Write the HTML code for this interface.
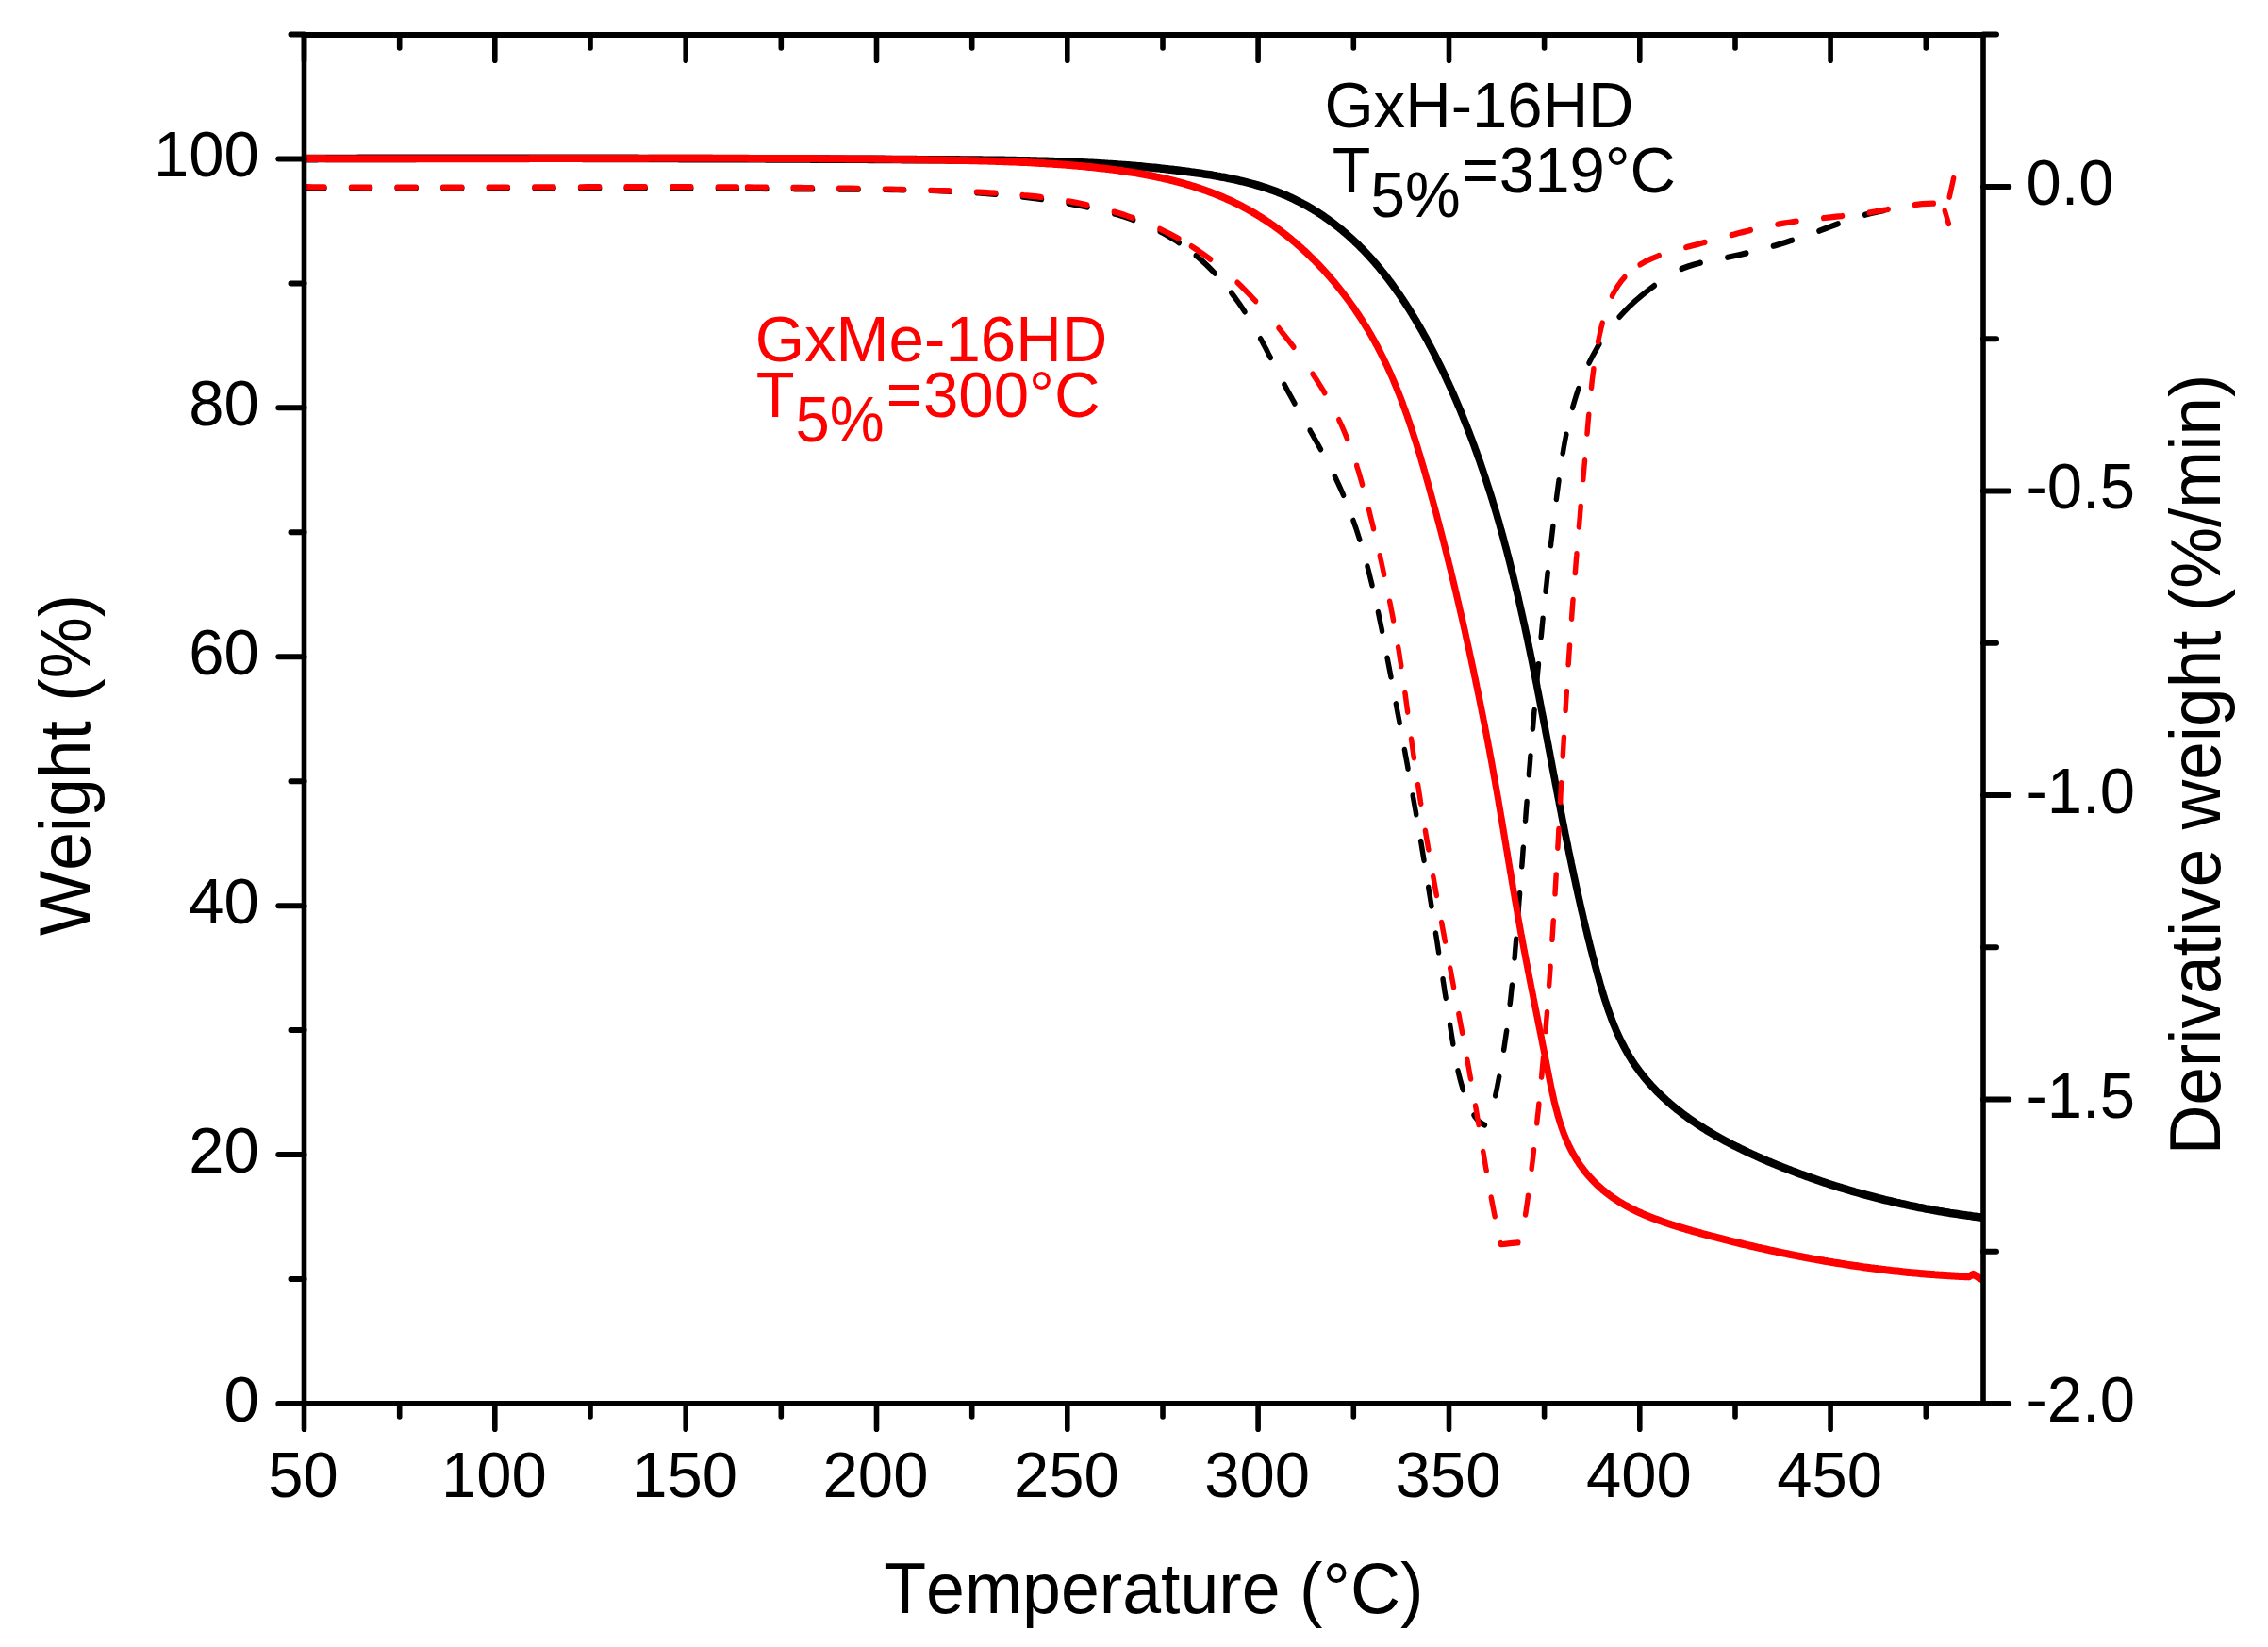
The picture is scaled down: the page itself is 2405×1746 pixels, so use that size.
<!DOCTYPE html>
<html lang="en"><head><meta charset="utf-8"><title>TGA curves</title>
<style>html,body{margin:0;padding:0;background:#fff}body{width:2405px;height:1746px;overflow:hidden}svg{display:block}text{font-family:"Liberation Sans", Arial, Helvetica, sans-serif;font-kerning:none;}</style></head><body>
<svg width="2405" height="1746" viewBox="0 0 2405 1746">
<rect width="2405" height="1746" fill="#fff"/>
<defs><clipPath id="plot"><rect x="322.5" y="37.0" width="1780.5" height="1451.0"/></clipPath></defs>
<g clip-path="url(#plot)"><g fill="none" stroke-linejoin="round" transform="scale(0.88 1)">
<path d="M359.1 168.1L361.4 168.1L363.7 168.1L366.0 168.1L368.2 168.1L370.5 168.1L372.8 168.1L375.0 168.1L377.3 168.1L379.6 168.1L381.9 168.1L384.1 168.0L386.4 168.0L388.7 168.0L391.0 168.0L393.2 168.0L395.5 168.0L397.8 168.0L400.0 168.0L402.3 168.0L404.6 168.0L406.9 168.0L409.1 168.0L411.4 168.0L413.7 168.0L416.0 168.0L418.2 168.0L420.5 168.0L422.8 168.0L425.0 168.0L427.3 168.0L429.6 168.0L431.9 167.9L434.1 167.9L436.4 167.9L438.7 167.9L441.0 167.9L443.2 167.9L445.5 167.9L447.8 167.9L450.1 167.9L452.3 167.9L454.6 167.9L456.9 167.9L459.2 167.9L461.4 167.9L463.7 167.9L466.0 167.9L468.2 167.9L470.5 167.9L472.8 167.9L475.1 167.9L477.3 167.9L479.6 167.9L481.9 167.9L484.2 167.9L486.4 167.9L488.7 167.9L491.0 167.9L493.3 167.9L495.5 167.9L497.8 167.9L500.1 167.9L502.4 167.8L504.6 167.8L506.9 167.8L509.2 167.8L511.5 167.8L513.7 167.8L516.0 167.8L518.3 167.8L520.6 167.8L522.8 167.8L525.1 167.8L527.4 167.8L529.7 167.8L531.9 167.8L534.2 167.8L536.5 167.8L538.8 167.8L541.0 167.8L543.3 167.8L545.6 167.8L547.9 167.8L550.1 167.8L552.4 167.8L554.7 167.8L557.0 167.8L559.3 167.8L561.5 167.8L563.8 167.8L566.1 167.8L568.4 167.8L570.6 167.8L572.9 167.8L575.2 167.8L577.5 167.8L579.7 167.8L582.0 167.8L584.3 167.8L586.6 167.8L588.8 167.8L591.1 167.8L593.4 167.8L595.7 167.8L597.9 167.8L600.2 167.8L602.5 167.8L604.8 167.8L607.0 167.8L609.3 167.8L611.6 167.8L613.9 167.8L616.2 167.8L618.4 167.8L620.7 167.8L623.0 167.8L625.3 167.8L627.5 167.8L629.8 167.8L632.1 167.8L634.4 167.8L636.6 167.8L638.9 167.8L641.2 167.8L643.5 167.8L645.7 167.8L648.0 167.8L650.3 167.8L652.6 167.8L654.9 167.8L657.1 167.8L659.4 167.8L661.7 167.8L664.0 167.8L666.2 167.8L668.5 167.8L670.8 167.8L673.1 167.8L675.3 167.8L677.6 167.8L679.9 167.8L682.2 167.8L684.5 167.8L686.7 167.8L689.0 167.8L691.3 167.8L693.6 167.8L695.8 167.8L698.1 167.8L700.4 167.8L702.7 167.9L704.9 167.9L707.2 167.9L709.5 167.9L711.8 167.9L714.1 167.9L716.3 167.9L718.6 167.9L720.9 167.9L723.2 167.9L725.4 167.9L727.7 167.9L730.0 167.9L732.3 167.9L734.6 167.9L736.8 167.9L739.1 167.9L741.4 167.9L743.7 167.9L745.9 167.9L748.2 167.9L750.5 167.9L752.8 167.9L755.0 167.9L757.3 167.9L759.6 167.9L761.9 167.9L764.2 167.9L766.4 167.9L768.7 167.9L771.0 168.0L773.3 168.0L775.5 168.0L777.8 168.0L780.1 168.0L782.4 168.0L784.6 168.0L786.9 168.0L789.2 168.0L791.5 168.0L793.8 168.0L796.0 168.0L798.3 168.0L800.6 168.0L802.9 168.0L805.1 168.0L807.4 168.0L809.7 168.0L812.0 168.0L814.2 168.0L816.5 168.0L818.8 168.1L821.1 168.1L823.4 168.1L825.6 168.1L827.9 168.1L830.2 168.1L832.5 168.1L834.7 168.1L837.0 168.1L839.3 168.1L841.6 168.1L843.8 168.1L846.1 168.1L848.4 168.1L850.7 168.1L853.0 168.1L855.2 168.1L857.5 168.1L859.8 168.2L862.1 168.2L864.3 168.2L866.6 168.2L868.9 168.2L871.2 168.2L873.4 168.2L875.7 168.2L878.0 168.2L880.3 168.2L882.6 168.2L884.8 168.2L887.1 168.2L889.4 168.2L891.7 168.2L893.9 168.3L896.2 168.3L898.5 168.3L900.8 168.3L903.0 168.3L905.3 168.3L907.6 168.3L909.9 168.3L912.1 168.3L914.4 168.3L916.7 168.3L919.0 168.3L921.3 168.3L923.5 168.4L925.8 168.4L928.1 168.4L930.4 168.4L932.6 168.4L934.9 168.4L937.2 168.4L939.5 168.4L941.7 168.4L944.0 168.4L946.3 168.4L948.6 168.4L950.8 168.5L953.1 168.5L955.4 168.5L957.7 168.5L959.9 168.5L962.2 168.5L964.5 168.5L966.8 168.5L969.0 168.5L971.3 168.5L973.6 168.5L975.9 168.5L978.2 168.6L980.4 168.6L982.7 168.6L985.0 168.6L987.3 168.6L989.5 168.6L991.8 168.6L994.1 168.6L996.4 168.6L998.6 168.6L1000.9 168.7L1003.2 168.7L1005.5 168.7L1007.7 168.7L1010.0 168.7L1012.3 168.7L1014.6 168.7L1016.8 168.7L1019.1 168.7L1021.4 168.7L1023.7 168.8L1025.9 168.8L1028.2 168.8L1030.5 168.8L1032.8 168.8L1035.0 168.8L1037.3 168.8L1039.6 168.8L1041.9 168.8L1044.1 168.8L1046.4 168.9L1048.7 168.9L1051.0 168.9L1053.2 168.9L1055.5 168.9L1057.8 168.9L1060.0 168.9L1062.3 168.9L1064.6 168.9L1066.9 169.0L1069.1 169.0L1071.4 169.0L1073.7 169.0L1076.0 169.0L1078.2 169.0L1080.5 169.0L1082.8 169.0L1085.1 169.0L1087.3 169.1L1089.6 169.1L1091.9 169.1L1094.2 169.1L1096.4 169.1L1098.7 169.1L1101.0 169.1L1103.2 169.1L1105.5 169.2L1107.8 169.2L1110.1 169.2L1112.3 169.2L1114.6 169.2L1116.9 169.2L1119.2 169.2L1121.4 169.2L1123.7 169.3L1126.0 169.3L1128.2 169.3L1130.5 169.3L1132.8 169.3L1135.1 169.3L1137.3 169.3L1139.6 169.3L1141.9 169.4L1144.2 169.4L1146.4 169.4L1148.7 169.4L1151.0 169.4L1153.2 169.4L1155.5 169.4L1157.8 169.5L1160.1 169.5L1162.3 169.5L1164.6 169.5L1166.9 169.5L1169.1 169.5L1171.4 169.6L1173.7 169.6L1176.0 169.6L1178.2 169.6L1180.5 169.6L1182.8 169.6L1185.0 169.7L1187.3 169.7L1189.6 169.7L1191.9 169.7L1194.1 169.8L1196.4 169.8L1198.7 169.8L1200.9 169.8L1203.2 169.9L1205.5 169.9L1207.8 169.9L1210.0 169.9L1212.3 170.0L1214.6 170.0L1216.8 170.0L1219.1 170.1L1221.4 170.1L1223.7 170.1L1225.9 170.2L1228.2 170.2L1230.5 170.3L1232.7 170.3L1235.0 170.3L1237.3 170.4L1239.6 170.4L1241.8 170.5L1244.1 170.5L1246.4 170.6L1248.6 170.6L1250.9 170.7L1253.2 170.7L1255.5 170.8L1257.7 170.8L1260.0 170.9L1262.3 170.9L1264.5 171.0L1266.8 171.1L1269.1 171.1L1271.4 171.2L1273.6 171.3L1275.9 171.3L1278.2 171.4L1280.4 171.5L1282.7 171.6L1285.0 171.6L1287.2 171.7L1289.5 171.8L1291.8 171.9L1294.1 172.0L1296.3 172.0L1298.6 172.1L1300.9 172.2L1303.1 172.3L1305.4 172.4L1307.7 172.5L1310.0 172.6L1312.2 172.7L1314.5 172.8L1316.8 172.9L1319.0 173.0L1321.3 173.1L1323.6 173.3L1325.9 173.4L1328.1 173.5L1330.4 173.6L1332.7 173.7L1335.0 173.9L1337.2 174.0L1339.5 174.1L1341.8 174.3L1344.0 174.4L1346.3 174.5L1348.6 174.7L1350.9 174.8L1353.1 175.0L1355.4 175.1L1357.7 175.3L1359.9 175.4L1362.2 175.6L1364.5 175.8L1366.8 175.9L1369.0 176.1L1371.3 176.3L1373.6 176.4L1375.9 176.6L1378.1 176.8L1380.4 177.0L1382.7 177.2L1384.9 177.4L1387.2 177.5L1389.5 177.7L1391.8 177.9L1394.0 178.1L1396.3 178.3L1398.6 178.6L1400.9 178.8L1403.1 179.0L1405.4 179.2L1407.7 179.4L1410.0 179.7L1412.2 179.9L1414.5 180.1L1416.8 180.4L1419.1 180.6L1421.3 180.8L1423.6 181.1L1425.9 181.3L1428.2 181.6L1430.4 181.9L1432.7 182.1L1435.0 182.4L1437.3 182.7L1439.5 182.9L1441.8 183.2L1444.1 183.5L1446.4 183.8L1448.6 184.1L1450.9 184.4L1453.2 184.7L1455.4 185.0L1457.7 185.3L1460.0 185.6L1462.2 186.0L1464.5 186.3L1466.8 186.7L1469.0 187.0L1471.3 187.4L1473.5 187.7L1475.8 188.1L1478.0 188.5L1480.3 188.9L1482.5 189.3L1484.7 189.7L1487.0 190.1L1489.2 190.6L1491.4 191.0L1493.7 191.5L1495.9 191.9L1498.1 192.4L1500.3 192.9L1502.5 193.4L1504.7 193.9L1506.9 194.4L1509.1 194.9L1511.3 195.4L1513.5 196.0L1515.7 196.5L1517.9 197.1L1520.0 197.7L1522.2 198.3L1524.4 198.9L1526.5 199.5L1528.7 200.2L1530.8 200.8L1532.9 201.5L1535.1 202.2L1537.2 202.8L1539.3 203.6L1541.4 204.3L1543.5 205.0L1545.6 205.8L1547.7 206.5L1549.8 207.3L1551.8 208.1L1553.9 208.9L1556.0 209.8L1558.0 210.6L1560.1 211.5L1562.1 212.4L1564.1 213.2L1566.1 214.2L1568.1 215.1L1570.1 216.0L1572.1 217.0L1574.1 217.9L1576.1 218.9L1578.0 219.9L1580.0 220.9L1581.9 221.9L1583.8 223.0L1585.8 224.0L1587.7 225.1L1589.6 226.1L1591.5 227.2L1593.3 228.3L1595.2 229.4L1597.0 230.6L1598.9 231.7L1600.7 232.8L1602.5 234.0L1604.3 235.2L1606.1 236.4L1607.9 237.6L1609.7 238.8L1611.4 240.0L1613.2 241.2L1614.9 242.5L1616.7 243.7L1618.4 245.0L1620.1 246.3L1621.8 247.5L1623.5 248.8L1625.2 250.2L1626.8 251.5L1628.5 252.8L1630.1 254.1L1631.8 255.5L1633.4 256.9L1635.0 258.2L1636.6 259.6L1638.2 261.0L1639.8 262.4L1641.4 263.8L1643.0 265.2L1644.5 266.6L1646.1 268.1L1647.6 269.5L1649.1 271.0L1650.7 272.5L1652.2 273.9L1653.7 275.4L1655.2 276.9L1656.6 278.4L1658.1 279.9L1659.6 281.4L1661.0 282.9L1662.5 284.5L1663.9 286.0L1665.4 287.6L1666.8 289.1L1668.2 290.7L1669.6 292.3L1671.0 293.8L1672.4 295.4L1673.7 297.0L1675.1 298.6L1676.5 300.2L1677.8 301.8L1679.2 303.5L1680.5 305.1L1681.8 306.7L1683.2 308.4L1684.5 310.0L1685.8 311.7L1687.1 313.3L1688.4 315.0L1689.6 316.7L1690.9 318.3L1692.2 320.0L1693.4 321.7L1694.7 323.4L1695.9 325.1L1697.2 326.8L1698.4 328.5L1699.6 330.2L1700.8 331.9L1702.0 333.7L1703.2 335.4L1704.4 337.1L1705.6 338.9L1706.8 340.6L1707.9 342.4L1709.1 344.1L1710.2 345.9L1711.4 347.6L1712.5 349.4L1713.7 351.1L1714.8 352.9L1715.9 354.7L1717.0 356.5L1718.2 358.2L1719.3 360.0L1720.4 361.8L1721.4 363.6L1722.5 365.4L1723.6 367.2L1724.7 369.0L1725.7 370.8L1726.8 372.6L1727.9 374.4L1728.9 376.2L1729.9 378.0L1731.0 379.8L1732.0 381.6L1733.0 383.4L1734.1 385.3L1735.1 387.1L1736.1 388.9L1737.1 390.7L1738.1 392.5L1739.1 394.4L1740.1 396.2L1741.0 398.0L1742.0 399.8L1743.0 401.7L1743.9 403.5L1744.9 405.3L1745.9 407.2L1746.8 409.0L1747.8 410.8L1748.7 412.7L1749.6 414.5L1750.6 416.4L1751.5 418.2L1752.4 420.0L1753.3 421.9L1754.2 423.7L1755.1 425.6L1756.0 427.4L1756.9 429.3L1757.8 431.1L1758.7 433.0L1759.6 434.8L1760.4 436.7L1761.3 438.6L1762.2 440.4L1763.0 442.3L1763.9 444.1L1764.7 446.0L1765.6 447.9L1766.4 449.7L1767.3 451.6L1768.1 453.4L1768.9 455.3L1769.7 457.2L1770.6 459.1L1771.4 460.9L1772.2 462.8L1773.0 464.7L1773.8 466.5L1774.6 468.4L1775.4 470.3L1776.2 472.2L1777.0 474.1L1777.7 475.9L1778.5 477.8L1779.3 479.7L1780.0 481.6L1780.8 483.5L1781.6 485.4L1782.3 487.2L1783.1 489.1L1783.8 491.0L1784.6 492.9L1785.3 494.8L1786.0 496.7L1786.8 498.6L1787.5 500.5L1788.2 502.4L1788.9 504.3L1789.6 506.2L1790.3 508.1L1791.0 510.0L1791.7 511.9L1792.4 513.8L1793.1 515.7L1793.8 517.6L1794.5 519.5L1795.2 521.4L1795.9 523.3L1796.6 525.2L1797.2 527.1L1797.9 529.0L1798.6 530.9L1799.2 532.8L1799.9 534.8L1800.5 536.7L1801.2 538.6L1801.8 540.5L1802.5 542.4L1803.1 544.3L1803.8 546.2L1804.4 548.2L1805.0 550.1L1805.7 552.0L1806.3 553.9L1806.9 555.8L1807.5 557.8L1808.1 559.7L1808.7 561.6L1809.4 563.5L1810.0 565.5L1810.6 567.4L1811.2 569.3L1811.8 571.2L1812.4 573.2L1812.9 575.1L1813.5 577.0L1814.1 579.0L1814.7 580.9L1815.3 582.8L1815.9 584.8L1816.4 586.7L1817.0 588.6L1817.6 590.6L1818.1 592.5L1818.7 594.4L1819.3 596.4L1819.8 598.3L1820.4 600.2L1820.9 602.2L1821.5 604.1L1822.0 606.1L1822.6 608.0L1823.1 609.9L1823.6 611.9L1824.2 613.8L1824.7 615.8L1825.2 617.7L1825.8 619.7L1826.3 621.6L1826.8 623.6L1827.3 625.5L1827.9 627.4L1828.4 629.4L1828.9 631.3L1829.4 633.3L1829.9 635.2L1830.4 637.2L1830.9 639.1L1831.4 641.1L1831.9 643.0L1832.4 645.0L1832.9 646.9L1833.4 648.9L1833.9 650.8L1834.4 652.8L1834.9 654.7L1835.4 656.7L1835.9 658.7L1836.4 660.6L1836.9 662.6L1837.4 664.5L1837.8 666.5L1838.3 668.4L1838.8 670.4L1839.3 672.3L1839.7 674.3L1840.2 676.3L1840.7 678.2L1841.1 680.2L1841.6 682.1L1842.1 684.1L1842.5 686.0L1843.0 688.0L1843.5 690.0L1843.9 691.9L1844.4 693.9L1844.8 695.8L1845.3 697.8L1845.8 699.8L1846.2 701.7L1846.7 703.7L1847.1 705.6L1847.6 707.6L1848.0 709.6L1848.5 711.5L1848.9 713.5L1849.3 715.5L1849.8 717.4L1850.2 719.4L1850.7 721.3L1851.1 723.3L1851.6 725.3L1852.0 727.2L1852.4 729.2L1852.9 731.2L1853.3 733.1L1853.7 735.1L1854.2 737.0L1854.6 739.0L1855.0 741.0L1855.5 742.9L1855.9 744.9L1856.3 746.9L1856.8 748.8L1857.2 750.8L1857.6 752.8L1858.0 754.7L1858.5 756.7L1858.9 758.7L1859.3 760.6L1859.8 762.6L1860.2 764.6L1860.6 766.5L1861.0 768.5L1861.5 770.4L1861.9 772.4L1862.3 774.4L1862.7 776.3L1863.1 778.3L1863.6 780.3L1864.0 782.2L1864.4 784.2L1864.8 786.2L1865.3 788.1L1865.7 790.1L1866.1 792.0L1866.5 794.0L1866.9 796.0L1867.4 797.9L1867.8 799.9L1868.2 801.9L1868.6 803.8L1869.0 805.8L1869.5 807.8L1869.9 809.7L1870.3 811.7L1870.7 813.6L1871.1 815.6L1871.6 817.6L1872.0 819.5L1872.4 821.5L1872.8 823.4L1873.3 825.4L1873.7 827.4L1874.1 829.3L1874.5 831.3L1875.0 833.3L1875.4 835.2L1875.8 837.2L1876.2 839.1L1876.7 841.1L1877.1 843.1L1877.5 845.0L1877.9 847.0L1878.4 848.9L1878.8 850.9L1879.2 852.8L1879.7 854.8L1880.1 856.8L1880.5 858.7L1881.0 860.7L1881.4 862.6L1881.8 864.6L1882.3 866.6L1882.7 868.5L1883.1 870.5L1883.6 872.4L1884.0 874.4L1884.5 876.4L1884.9 878.3L1885.3 880.3L1885.8 882.2L1886.2 884.2L1886.7 886.1L1887.1 888.1L1887.6 890.1L1888.0 892.0L1888.5 894.0L1888.9 895.9L1889.4 897.9L1889.8 899.9L1890.3 901.8L1890.7 903.8L1891.2 905.7L1891.7 907.7L1892.1 909.7L1892.6 911.6L1893.1 913.6L1893.5 915.5L1894.0 917.5L1894.5 919.5L1894.9 921.4L1895.4 923.4L1895.9 925.3L1896.3 927.3L1896.8 929.3L1897.3 931.2L1897.8 933.2L1898.3 935.1L1898.8 937.1L1899.2 939.1L1899.7 941.0L1900.2 943.0L1900.7 944.9L1901.2 946.9L1901.7 948.9L1902.2 950.8L1902.7 952.8L1903.2 954.8L1903.7 956.7L1904.2 958.7L1904.7 960.6L1905.2 962.6L1905.7 964.6L1906.2 966.5L1906.8 968.5L1907.3 970.5L1907.8 972.4L1908.3 974.4L1908.9 976.4L1909.4 978.3L1909.9 980.3L1910.4 982.2L1911.0 984.2L1911.5 986.2L1912.1 988.1L1912.6 990.1L1913.1 992.1L1913.7 994.1L1914.2 996.0L1914.8 998.0L1915.4 1000.0L1915.9 1001.9L1916.5 1003.9L1917.0 1005.9L1917.6 1007.8L1918.2 1009.8L1918.7 1011.8L1919.3 1013.7L1919.9 1015.7L1920.5 1017.7L1921.1 1019.7L1921.6 1021.6L1922.2 1023.6L1922.8 1025.6L1923.4 1027.6L1924.0 1029.5L1924.6 1031.5L1925.2 1033.5L1925.8 1035.4L1926.5 1037.4L1927.1 1039.4L1927.7 1041.4L1928.3 1043.3L1929.0 1045.3L1929.6 1047.2L1930.3 1049.2L1930.9 1051.2L1931.6 1053.1L1932.3 1055.1L1933.0 1057.0L1933.6 1058.9L1934.3 1060.9L1935.1 1062.8L1935.8 1064.7L1936.5 1066.7L1937.2 1068.6L1938.0 1070.5L1938.7 1072.4L1939.5 1074.3L1940.3 1076.2L1941.1 1078.1L1941.9 1080.0L1942.7 1081.9L1943.5 1083.7L1944.3 1085.6L1945.2 1087.5L1946.1 1089.3L1946.9 1091.1L1947.8 1093.0L1948.7 1094.8L1949.7 1096.6L1950.6 1098.4L1951.5 1100.2L1952.5 1102.0L1953.5 1103.8L1954.5 1105.5L1955.5 1107.3L1956.5 1109.0L1957.6 1110.8L1958.6 1112.5L1959.7 1114.2L1960.8 1115.9L1961.9 1117.6L1963.0 1119.3L1964.2 1121.0L1965.4 1122.6L1966.5 1124.3L1967.8 1125.9L1969.0 1127.5L1970.2 1129.1L1971.5 1130.7L1972.8 1132.3L1974.1 1133.9L1975.4 1135.4L1976.7 1137.0L1978.1 1138.5L1979.4 1140.0L1980.8 1141.5L1982.2 1143.0L1983.6 1144.5L1985.1 1146.0L1986.5 1147.5L1988.0 1148.9L1989.5 1150.4L1991.0 1151.8L1992.5 1153.2L1994.0 1154.6L1995.5 1156.0L1997.1 1157.4L1998.7 1158.8L2000.3 1160.2L2001.9 1161.5L2003.5 1162.9L2005.1 1164.2L2006.7 1165.5L2008.4 1166.8L2010.1 1168.1L2011.7 1169.4L2013.4 1170.7L2015.2 1172.0L2016.9 1173.3L2018.6 1174.5L2020.3 1175.8L2022.1 1177.0L2023.9 1178.2L2025.7 1179.4L2027.4 1180.6L2029.3 1181.8L2031.1 1183.0L2032.9 1184.2L2034.7 1185.4L2036.6 1186.5L2038.4 1187.7L2040.3 1188.8L2042.2 1189.9L2044.1 1191.1L2046.0 1192.2L2047.9 1193.3L2049.8 1194.4L2051.7 1195.4L2053.7 1196.5L2055.6 1197.6L2057.5 1198.6L2059.5 1199.7L2061.5 1200.7L2063.5 1201.8L2065.4 1202.8L2067.4 1203.8L2069.4 1204.8L2071.4 1205.8L2073.5 1206.8L2075.5 1207.8L2077.5 1208.8L2079.5 1209.8L2081.6 1210.7L2083.6 1211.7L2085.7 1212.6L2087.7 1213.6L2089.8 1214.5L2091.9 1215.4L2094.0 1216.3L2096.0 1217.2L2098.1 1218.1L2100.2 1219.0L2102.3 1219.9L2104.4 1220.8L2106.5 1221.7L2108.6 1222.5L2110.7 1223.4L2112.9 1224.3L2115.0 1225.1L2117.1 1225.9L2119.2 1226.8L2121.4 1227.6L2123.5 1228.4L2125.6 1229.2L2127.8 1230.1L2129.9 1230.9L2132.1 1231.7L2134.2 1232.4L2136.3 1233.2L2138.5 1234.0L2140.6 1234.8L2142.8 1235.5L2144.9 1236.3L2147.1 1237.1L2149.2 1237.8L2151.4 1238.5L2153.6 1239.3L2155.7 1240.0L2157.9 1240.7L2160.0 1241.5L2162.2 1242.2L2164.3 1242.9L2166.5 1243.6L2168.6 1244.3L2170.8 1245.0L2172.9 1245.7L2175.1 1246.4L2177.2 1247.1L2179.4 1247.7L2181.5 1248.4L2183.7 1249.1L2185.8 1249.7L2188.0 1250.4L2190.1 1251.0L2192.3 1251.7L2194.4 1252.3L2196.6 1253.0L2198.7 1253.6L2200.9 1254.2L2203.0 1254.8L2205.2 1255.5L2207.3 1256.1L2209.5 1256.7L2211.7 1257.3L2213.8 1257.9L2216.0 1258.5L2218.1 1259.0L2220.3 1259.6L2222.4 1260.2L2224.6 1260.8L2226.7 1261.3L2228.9 1261.9L2231.1 1262.5L2233.2 1263.0L2235.4 1263.6L2237.5 1264.1L2239.7 1264.6L2241.9 1265.2L2244.0 1265.7L2246.2 1266.2L2248.4 1266.7L2250.5 1267.3L2252.7 1267.8L2254.9 1268.3L2257.1 1268.8L2259.2 1269.3L2261.4 1269.8L2263.6 1270.3L2265.8 1270.7L2267.9 1271.2L2270.1 1271.7L2272.3 1272.2L2274.5 1272.6L2276.7 1273.1L2278.9 1273.5L2281.0 1274.0L2283.2 1274.4L2285.4 1274.9L2287.6 1275.3L2289.8 1275.8L2292.0 1276.2L2294.2 1276.6L2296.4 1277.0L2298.6 1277.4L2300.8 1277.9L2303.0 1278.3L2305.2 1278.7L2307.4 1279.1L2309.7 1279.5L2311.9 1279.9L2314.1 1280.2L2316.3 1280.6L2318.5 1281.0L2320.8 1281.4L2323.0 1281.7L2325.2 1282.1L2327.4 1282.5L2329.7 1282.8L2331.9 1283.2L2334.2 1283.5L2336.4 1283.9L2338.6 1284.2L2340.9 1284.5L2343.1 1284.9L2345.4 1285.2L2347.6 1285.5L2349.9 1285.9L2352.2 1286.2L2354.4 1286.5L2356.7 1286.8L2359.0 1287.1L2361.2 1287.4L2363.5 1287.7L2365.8 1288.0L2368.1 1288.3L2370.4 1288.6L2372.6 1288.8L2374.9 1289.1L2377.2 1289.4L2379.5 1289.7L2381.8 1289.9L2384.1 1290.2L2386.4 1290.4L2388.8 1290.7L2391.1 1290.9" stroke="#000" stroke-width="8.6"/>
<path d="M368.2 199.3L370.5 199.3L377.3 199.3L384.1 199.3L390.9 199.3M423.4 199.3L425.1 199.3L432.0 199.3L438.8 199.2L445.6 199.2L446.1 199.2M478.6 199.2L479.8 199.2L486.6 199.2L493.4 199.2L500.3 199.2L501.4 199.2M533.9 199.2L534.4 199.2L541.3 199.2L548.1 199.2L554.9 199.2L556.6 199.2M589.1 199.2L591.4 199.2L598.2 199.2L605.0 199.2L611.8 199.2M644.3 199.3L646.0 199.3L652.8 199.3L659.7 199.3L666.5 199.3L667.1 199.3M699.6 199.4L700.6 199.4L707.5 199.4L714.3 199.4L721.1 199.4L722.3 199.4M754.8 199.5L755.3 199.5L762.1 199.5L768.9 199.5L775.8 199.5L777.5 199.5M810.0 199.6L812.2 199.6L819.0 199.7L825.9 199.7L832.7 199.7L832.7 199.7M865.2 199.8L866.9 199.8L873.7 199.9L880.5 199.9L887.4 199.9L888.0 199.9M901.0 200.0L903.3 200.0L910.1 200.0L917.0 200.0L923.7 200.1M956.2 200.2L958.0 200.3L964.8 200.3L971.6 200.3L978.5 200.4L979.0 200.4M1011.5 200.6L1012.6 200.6L1019.5 200.6L1026.3 200.7L1033.1 200.7L1034.2 200.7M1066.7 201.0L1067.3 201.0L1074.1 201.1L1081.0 201.2L1087.8 201.3L1089.4 201.3M1121.9 202.0L1121.9 202.0L1128.8 202.2L1135.6 202.4L1142.4 202.7L1144.7 202.8M1177.2 204.3L1178.7 204.4L1185.5 204.8L1192.3 205.3L1199.1 205.8L1199.9 205.8M1232.4 208.6L1233.1 208.7L1239.9 209.4L1246.6 210.2L1253.4 211.0L1255.1 211.2M1287.6 215.7L1289.5 216.0L1296.2 217.1L1302.9 218.3L1309.7 219.5L1310.3 219.6M1342.8 226.6L1343.0 226.6L1349.6 228.3L1356.1 230.1L1362.6 232.1L1365.6 233.0M1398.0 245.4L1400.0 246.3L1405.9 249.2L1411.8 252.2L1417.5 255.4L1420.7 257.3M1441.3 271.0L1443.0 272.3L1448.2 276.3L1453.3 280.4L1458.2 284.7L1463.0 289.0L1463.9 289.8M1483.9 310.5L1485.3 312.1L1489.4 317.0L1493.4 321.9L1497.2 326.8L1499.9 330.5M1519.0 359.1L1519.2 359.4L1522.4 364.7L1525.6 369.9L1528.7 375.3L1531.0 379.1M1547.7 407.7L1548.5 409.0L1551.7 414.3L1555.0 419.6L1558.3 424.9L1560.1 427.7M1578.6 456.3L1578.6 456.4L1582.0 461.6L1585.4 466.9L1588.8 472.1L1591.4 476.3M1608.4 504.9L1608.9 505.8L1611.8 511.2L1614.7 516.7L1617.4 522.1L1618.8 524.9M1630.7 551.8L1631.4 553.6L1633.7 559.3L1635.8 565.0L1637.9 570.7L1638.3 571.8M1647.7 600.4L1648.0 601.4L1649.7 607.2L1651.3 613.0L1653.0 618.8L1653.4 620.4M1660.7 649.0L1661.0 650.2L1662.4 656.1L1663.8 662.0L1665.2 667.9L1665.4 669.0M1671.7 697.6L1671.7 697.6L1673.0 703.5L1674.3 709.4L1675.6 715.4L1676.1 717.6M1682.2 746.2L1682.4 747.0L1683.6 752.9L1684.9 758.8L1686.2 764.7L1686.5 766.2M1692.5 794.8L1692.8 796.2L1694.0 802.2L1695.3 808.1L1696.5 814.0L1696.6 814.8M1702.5 843.4L1702.5 843.5L1703.7 849.4L1704.9 855.3L1706.1 861.2L1706.5 863.4M1712.1 892.0L1712.3 892.7L1713.4 898.6L1714.5 904.5L1715.6 910.4L1715.9 912.0M1721.3 940.6L1721.5 942.0L1722.6 947.9L1723.7 953.8L1724.8 959.7L1724.9 960.6M1730.1 989.4L1730.4 991.3L1731.5 997.3L1732.5 1003.2L1733.6 1009.2L1733.6 1009.4M1738.7 1038.0L1738.8 1039.0L1739.9 1044.9L1740.9 1050.9L1742.0 1056.9L1742.2 1058.0M1747.3 1086.6L1747.3 1086.9L1748.4 1092.9L1749.5 1098.9L1750.6 1104.9L1750.9 1106.6M1756.9 1135.2L1757.3 1136.7L1758.9 1142.5L1760.7 1148.2L1762.6 1153.9L1763.0 1155.2M1776.2 1182.2L1777.3 1183.8L1781.3 1188.3L1786.8 1191.7L1789.1 1192.6M1801.9 1161.5L1802.4 1159.5L1803.8 1153.7L1805.1 1147.8L1806.4 1141.9L1806.5 1141.5M1812.1 1112.9L1812.2 1112.4L1813.2 1106.4L1814.2 1100.5L1815.2 1094.5L1815.5 1092.9M1819.5 1064.3L1819.7 1062.8L1820.5 1056.8L1821.2 1050.8L1821.9 1044.8L1822.0 1044.3M1825.1 1015.7L1825.2 1014.9L1825.7 1008.9L1826.3 1002.9L1826.9 996.9L1827.0 995.7M1829.6 967.1L1829.6 966.9L1830.1 960.9L1830.6 954.9L1831.2 948.9L1831.3 947.1M1833.8 918.5L1834.0 916.9L1834.5 910.9L1835.0 905.0L1835.5 899.0L1835.6 898.5M1838.1 869.9L1838.2 869.0L1838.7 863.0L1839.2 857.0L1839.8 851.0L1839.9 849.9M1842.5 821.3L1842.5 821.1L1843.0 815.1L1843.6 809.1L1844.1 803.1L1844.3 801.3M1847.0 772.7L1847.2 771.2L1847.7 765.2L1848.3 759.2L1848.9 753.3L1849.0 752.7M1851.8 724.1L1851.9 723.3L1852.5 717.4L1853.1 711.4L1853.8 705.4L1853.9 704.1M1857.0 675.5L1857.0 675.5L1857.7 669.5L1858.3 663.5L1859.0 657.5L1859.2 655.5M1862.6 626.9L1862.7 625.6L1863.5 619.7L1864.2 613.7L1864.9 607.7L1865.0 606.9M1868.7 578.3L1868.8 577.8M1868.8 577.8L1869.0 575.8L1869.8 569.8L1870.6 563.8L1871.4 557.8L1871.4 557.8M1875.4 529.2L1875.6 527.9L1876.5 521.9L1877.4 515.9L1878.3 510.0L1878.4 509.2M1883.2 480.6L1883.3 480.2L1884.4 474.2L1885.6 468.3L1886.9 462.4L1887.3 460.6M1895.0 432.0L1895.2 431.4L1897.1 425.7L1899.1 420.0L1901.2 414.3L1902.1 412.0M1914.8 384.8L1915.8 383.0L1918.9 377.6L1922.2 372.3L1925.6 367.0L1927.1 364.8M1951.3 335.9L1952.9 334.4L1957.6 330.0L1962.4 325.7L1967.4 321.6L1970.7 318.9M1970.7 318.9L1972.5 317.6L1977.6 313.7L1982.9 309.9L1988.3 306.2L1993.5 302.8M2026.4 285.0L2028.4 284.3L2034.7 282.2L2041.1 280.4L2047.6 278.9L2049.1 278.6M2081.6 272.8L2083.2 272.5L2089.9 271.3L2096.6 270.0L2103.3 268.6L2104.3 268.4M2136.8 260.8L2138.4 260.4L2145.0 258.7L2151.5 256.9L2158.0 255.1L2159.5 254.7M2192.0 244.8L2192.5 244.6L2198.9 242.5L2205.3 240.4L2211.7 238.3L2214.8 237.3M2247.3 227.8L2248.3 227.5L2254.9 226.0L2261.6 224.6L2268.3 223.4L2270.0 223.1" stroke="#000" stroke-width="6.2" stroke-linecap="round"/>
<path d="M359.2 168.0L361.4 168.0L363.7 168.0L366.0 168.0L368.2 168.0L370.5 168.1L372.8 168.1L375.1 168.1L377.3 168.1L379.6 168.1L381.9 168.1L384.1 168.1L386.4 168.1L388.7 168.1L390.9 168.1L393.2 168.2L395.5 168.2L397.8 168.2L400.0 168.2L402.3 168.2L404.6 168.2L406.8 168.2L409.1 168.2L411.4 168.2L413.7 168.2L415.9 168.2L418.2 168.2L420.5 168.2L422.7 168.2L425.0 168.3L427.3 168.3L429.6 168.3L431.8 168.3L434.1 168.3L436.4 168.3L438.7 168.3L440.9 168.3L443.2 168.3L445.5 168.3L447.8 168.3L450.0 168.3L452.3 168.3L454.6 168.3L456.8 168.3L459.1 168.3L461.4 168.3L463.7 168.3L465.9 168.3L468.2 168.3L470.5 168.3L472.8 168.3L475.0 168.3L477.3 168.3L479.6 168.3L481.9 168.3L484.1 168.3L486.4 168.3L488.7 168.3L491.0 168.3L493.2 168.3L495.5 168.3L497.8 168.3L500.1 168.3L502.3 168.3L504.6 168.3L506.9 168.3L509.2 168.3L511.4 168.3L513.7 168.3L516.0 168.3L518.3 168.3L520.5 168.3L522.8 168.3L525.1 168.3L527.4 168.3L529.6 168.3L531.9 168.3L534.2 168.3L536.5 168.3L538.7 168.3L541.0 168.3L543.3 168.3L545.6 168.3L547.8 168.3L550.1 168.3L552.4 168.3L554.7 168.3L556.9 168.3L559.2 168.3L561.5 168.3L563.8 168.3L566.1 168.3L568.3 168.3L570.6 168.3L572.9 168.3L575.2 168.3L577.4 168.3L579.7 168.3L582.0 168.3L584.3 168.3L586.5 168.3L588.8 168.3L591.1 168.2L593.4 168.2L595.7 168.2L597.9 168.2L600.2 168.2L602.5 168.2L604.8 168.2L607.0 168.2L609.3 168.2L611.6 168.2L613.9 168.2L616.2 168.2L618.4 168.2L620.7 168.2L623.0 168.2L625.3 168.2L627.5 168.2L629.8 168.2L632.1 168.2L634.4 168.2L636.6 168.2L638.9 168.1L641.2 168.1L643.5 168.1L645.8 168.1L648.0 168.1L650.3 168.1L652.6 168.1L654.9 168.1L657.2 168.1L659.4 168.1L661.7 168.1L664.0 168.1L666.3 168.1L668.5 168.1L670.8 168.1L673.1 168.1L675.4 168.1L677.7 168.1L679.9 168.1L682.2 168.0L684.5 168.0L686.8 168.0L689.0 168.0L691.3 168.0L693.6 168.0L695.9 168.0L698.2 168.0L700.4 168.0L702.7 168.0L705.0 168.0L707.3 168.0L709.5 168.0L711.8 168.0L714.1 168.0L716.4 168.0L718.7 168.0L720.9 168.0L723.2 168.0L725.5 168.0L727.8 167.9L730.1 167.9L732.3 167.9L734.6 167.9L736.9 167.9L739.2 167.9L741.4 167.9L743.7 167.9L746.0 167.9L748.3 167.9L750.6 167.9L752.8 167.9L755.1 167.9L757.4 167.9L759.7 167.9L762.0 167.9L764.2 167.9L766.5 167.9L768.8 167.9L771.1 167.9L773.3 167.9L775.6 167.9L777.9 167.9L780.2 167.9L782.5 167.8L784.7 167.8L787.0 167.8L789.3 167.8L791.6 167.8L793.8 167.8L796.1 167.8L798.4 167.8L800.7 167.8L803.0 167.8L805.2 167.8L807.5 167.8L809.8 167.8L812.1 167.8L814.3 167.8L816.6 167.8L818.9 167.8L821.2 167.8L823.5 167.8L825.7 167.8L828.0 167.8L830.3 167.8L832.6 167.8L834.8 167.8L837.1 167.8L839.4 167.8L841.7 167.8L844.0 167.8L846.2 167.8L848.5 167.8L850.8 167.8L853.1 167.8L855.3 167.8L857.6 167.8L859.9 167.8L862.2 167.8L864.5 167.8L866.7 167.8L869.0 167.8L871.3 167.8L873.6 167.8L875.8 167.8L878.1 167.8L880.4 167.8L882.7 167.8L885.0 167.8L887.2 167.8L889.5 167.8L891.8 167.8L894.1 167.8L896.3 167.8L898.6 167.8L900.9 167.8L903.2 167.9L905.4 167.9L907.7 167.9L910.0 167.9L912.3 167.9L914.5 167.9L916.8 167.9L919.1 167.9L921.4 167.9L923.7 167.9L925.9 167.9L928.2 167.9L930.5 167.9L932.8 167.9L935.0 167.9L937.3 167.9L939.6 167.9L941.9 168.0L944.1 168.0L946.4 168.0L948.7 168.0L951.0 168.0L953.2 168.0L955.5 168.0L957.8 168.0L960.1 168.0L962.3 168.0L964.6 168.0L966.9 168.1L969.2 168.1L971.4 168.1L973.7 168.1L976.0 168.1L978.3 168.1L980.5 168.1L982.8 168.1L985.1 168.1L987.4 168.2L989.6 168.2L991.9 168.2L994.2 168.2L996.5 168.2L998.7 168.2L1001.0 168.2L1003.3 168.2L1005.6 168.3L1007.8 168.3L1010.1 168.3L1012.4 168.3L1014.7 168.3L1016.9 168.3L1019.2 168.4L1021.5 168.4L1023.7 168.4L1026.0 168.4L1028.3 168.4L1030.6 168.4L1032.8 168.5L1035.1 168.5L1037.4 168.5L1039.7 168.5L1041.9 168.5L1044.2 168.6L1046.5 168.6L1048.7 168.6L1051.0 168.6L1053.3 168.6L1055.6 168.7L1057.8 168.7L1060.1 168.7L1062.4 168.7L1064.6 168.7L1066.9 168.8L1069.2 168.8L1071.5 168.8L1073.7 168.8L1076.0 168.9L1078.3 168.9L1080.5 168.9L1082.8 168.9L1085.1 169.0L1087.4 169.0L1089.6 169.0L1091.9 169.0L1094.2 169.1L1096.4 169.1L1098.7 169.1L1101.0 169.1L1103.3 169.2L1105.5 169.2L1107.8 169.2L1110.1 169.3L1112.3 169.3L1114.6 169.3L1116.9 169.3L1119.1 169.4L1121.4 169.4L1123.7 169.4L1125.9 169.5L1128.2 169.5L1130.5 169.5L1132.8 169.6L1135.0 169.6L1137.3 169.6L1139.6 169.7L1141.8 169.7L1144.1 169.7L1146.4 169.8L1148.6 169.8L1150.9 169.8L1153.2 169.9L1155.4 169.9L1157.7 170.0L1160.0 170.0L1162.2 170.0L1164.5 170.1L1166.8 170.1L1169.0 170.2L1171.3 170.2L1173.6 170.2L1175.8 170.3L1178.1 170.3L1180.4 170.4L1182.6 170.4L1184.9 170.5L1187.2 170.5L1189.5 170.6L1191.7 170.7L1194.0 170.7L1196.3 170.8L1198.5 170.8L1200.8 170.9L1203.1 171.0L1205.3 171.0L1207.6 171.1L1209.9 171.2L1212.1 171.2L1214.4 171.3L1216.7 171.4L1218.9 171.5L1221.2 171.5L1223.5 171.6L1225.8 171.7L1228.0 171.8L1230.3 171.9L1232.6 172.0L1234.8 172.1L1237.1 172.1L1239.4 172.2L1241.7 172.3L1243.9 172.4L1246.2 172.5L1248.5 172.7L1250.7 172.8L1253.0 172.9L1255.3 173.0L1257.6 173.1L1259.8 173.2L1262.1 173.4L1264.4 173.5L1266.7 173.6L1268.9 173.7L1271.2 173.9L1273.5 174.0L1275.8 174.2L1278.0 174.3L1280.3 174.5L1282.6 174.6L1284.9 174.8L1287.1 174.9L1289.4 175.1L1291.7 175.2L1294.0 175.4L1296.3 175.6L1298.5 175.8L1300.8 175.9L1303.1 176.1L1305.4 176.3L1307.7 176.5L1310.0 176.7L1312.2 176.9L1314.5 177.1L1316.8 177.3L1319.1 177.5L1321.4 177.7L1323.7 178.0L1325.9 178.2L1328.2 178.4L1330.5 178.6L1332.8 178.9L1335.1 179.1L1337.4 179.4L1339.6 179.6L1341.9 179.9L1344.2 180.1L1346.5 180.4L1348.8 180.7L1351.0 181.0L1353.3 181.3L1355.6 181.6L1357.9 181.9L1360.1 182.2L1362.4 182.5L1364.7 182.8L1366.9 183.1L1369.2 183.4L1371.5 183.8L1373.7 184.1L1376.0 184.5L1378.3 184.8L1380.5 185.2L1382.8 185.6L1385.0 186.0L1387.3 186.3L1389.5 186.7L1391.7 187.1L1394.0 187.6L1396.2 188.0L1398.5 188.4L1400.7 188.8L1402.9 189.3L1405.1 189.7L1407.4 190.2L1409.6 190.7L1411.8 191.1L1414.0 191.6L1416.2 192.1L1418.4 192.6L1420.6 193.1L1422.8 193.7L1425.0 194.2L1427.2 194.7L1429.4 195.3L1431.6 195.8L1433.7 196.4L1435.9 197.0L1438.1 197.6L1440.2 198.2L1442.4 198.8L1444.5 199.4L1446.7 200.1L1448.8 200.7L1451.0 201.4L1453.1 202.0L1455.2 202.7L1457.3 203.4L1459.4 204.1L1461.5 204.8L1463.7 205.5L1465.7 206.2L1467.8 207.0L1469.9 207.7L1472.0 208.5L1474.1 209.3L1476.1 210.1L1478.2 210.9L1480.3 211.7L1482.3 212.5L1484.3 213.3L1486.4 214.2L1488.4 215.1L1490.4 215.9L1492.4 216.8L1494.4 217.7L1496.4 218.6L1498.4 219.6L1500.4 220.5L1502.4 221.5L1504.4 222.4L1506.3 223.4L1508.3 224.4L1510.2 225.4L1512.2 226.4L1514.1 227.4L1516.0 228.5L1518.0 229.5L1519.9 230.6L1521.8 231.6L1523.7 232.7L1525.6 233.8L1527.4 234.9L1529.3 236.0L1531.2 237.2L1533.0 238.3L1534.9 239.4L1536.7 240.6L1538.6 241.8L1540.4 243.0L1542.2 244.2L1544.0 245.4L1545.8 246.6L1547.6 247.8L1549.4 249.0L1551.2 250.3L1552.9 251.5L1554.7 252.8L1556.5 254.1L1558.2 255.4L1559.9 256.6L1561.7 257.9L1563.4 259.3L1565.1 260.6L1566.8 261.9L1568.5 263.3L1570.2 264.6L1571.9 266.0L1573.6 267.3L1575.2 268.7L1576.9 270.1L1578.5 271.5L1580.1 272.9L1581.8 274.3L1583.4 275.7L1585.0 277.2L1586.6 278.6L1588.2 280.0L1589.8 281.5L1591.4 283.0L1592.9 284.4L1594.5 285.9L1596.0 287.4L1597.6 288.9L1599.1 290.4L1600.6 291.9L1602.1 293.4L1603.6 294.9L1605.1 296.5L1606.6 298.0L1608.1 299.6L1609.5 301.1L1611.0 302.7L1612.4 304.2L1613.9 305.8L1615.3 307.4L1616.7 309.0L1618.1 310.6L1619.5 312.2L1620.9 313.8L1622.3 315.4L1623.7 317.0L1625.0 318.6L1626.4 320.3L1627.7 321.9L1629.0 323.5L1630.4 325.2L1631.7 326.8L1633.0 328.5L1634.3 330.2L1635.5 331.8L1636.8 333.5L1638.1 335.2L1639.3 336.9L1640.6 338.6L1641.8 340.3L1643.0 342.0L1644.2 343.7L1645.4 345.4L1646.6 347.1L1647.8 348.8L1649.0 350.5L1650.1 352.3L1651.3 354.0L1652.4 355.7L1653.5 357.5L1654.6 359.2L1655.8 361.0L1656.9 362.7L1657.9 364.5L1659.0 366.2L1660.1 368.0L1661.1 369.8L1662.2 371.5L1663.2 373.3L1664.2 375.1L1665.3 376.9L1666.3 378.7L1667.3 380.5L1668.3 382.2L1669.2 384.0L1670.2 385.8L1671.2 387.6L1672.1 389.5L1673.1 391.3L1674.0 393.1L1674.9 394.9L1675.9 396.7L1676.8 398.5L1677.7 400.4L1678.6 402.2L1679.5 404.0L1680.3 405.9L1681.2 407.7L1682.1 409.5L1682.9 411.4L1683.8 413.2L1684.6 415.1L1685.5 416.9L1686.3 418.8L1687.1 420.6L1687.9 422.5L1688.8 424.4L1689.6 426.2L1690.4 428.1L1691.1 430.0L1691.9 431.8L1692.7 433.7L1693.5 435.6L1694.2 437.5L1695.0 439.3L1695.8 441.2L1696.5 443.1L1697.2 445.0L1698.0 446.9L1698.7 448.8L1699.4 450.7L1700.2 452.6L1700.9 454.5L1701.6 456.4L1702.3 458.3L1703.0 460.2L1703.7 462.1L1704.4 464.0L1705.1 465.9L1705.8 467.8L1706.5 469.7L1707.1 471.6L1707.8 473.5L1708.5 475.4L1709.1 477.3L1709.8 479.3L1710.5 481.2L1711.1 483.1L1711.8 485.0L1712.4 486.9L1713.0 488.9L1713.7 490.8L1714.3 492.7L1715.0 494.6L1715.6 496.6L1716.2 498.5L1716.9 500.4L1717.5 502.3L1718.1 504.3L1718.7 506.2L1719.3 508.1L1720.0 510.1L1720.6 512.0L1721.2 513.9L1721.8 515.9L1722.4 517.8L1723.0 519.7L1723.6 521.7L1724.2 523.6L1724.8 525.5L1725.4 527.5L1726.0 529.4L1726.6 531.3L1727.2 533.3L1727.8 535.2L1728.4 537.1L1729.0 539.1L1729.6 541.0L1730.2 542.9L1730.8 544.9L1731.4 546.8L1731.9 548.8L1732.5 550.7L1733.1 552.6L1733.7 554.6L1734.3 556.5L1734.8 558.5L1735.4 560.4L1736.0 562.3L1736.6 564.3L1737.1 566.2L1737.7 568.2L1738.3 570.1L1738.8 572.1L1739.4 574.0L1739.9 575.9L1740.5 577.9L1741.1 579.8L1741.6 581.8L1742.2 583.7L1742.7 585.7L1743.3 587.6L1743.8 589.6L1744.4 591.5L1744.9 593.4L1745.5 595.4L1746.0 597.3L1746.6 599.3L1747.1 601.2L1747.7 603.2L1748.2 605.1L1748.7 607.1L1749.3 609.0L1749.8 611.0L1750.3 612.9L1750.9 614.9L1751.4 616.8L1751.9 618.8L1752.5 620.7L1753.0 622.7L1753.5 624.6L1754.0 626.6L1754.6 628.5L1755.1 630.5L1755.6 632.4L1756.1 634.4L1756.6 636.3L1757.2 638.3L1757.7 640.2L1758.2 642.2L1758.7 644.1L1759.2 646.1L1759.7 648.0L1760.2 650.0L1760.7 651.9L1761.3 653.9L1761.8 655.8L1762.3 657.8L1762.8 659.7L1763.3 661.7L1763.8 663.6L1764.3 665.6L1764.8 667.5L1765.3 669.5L1765.8 671.5L1766.3 673.4L1766.7 675.4L1767.2 677.3L1767.7 679.3L1768.2 681.2L1768.7 683.2L1769.2 685.1L1769.7 687.1L1770.2 689.0L1770.7 691.0L1771.1 692.9L1771.6 694.9L1772.1 696.8L1772.6 698.8L1773.1 700.7L1773.5 702.7L1774.0 704.7L1774.5 706.6L1775.0 708.6L1775.4 710.5L1775.9 712.5L1776.4 714.4L1776.8 716.4L1777.3 718.3L1777.8 720.3L1778.2 722.2L1778.7 724.2L1779.2 726.2L1779.6 728.1L1780.1 730.1L1780.5 732.0L1781.0 734.0L1781.5 735.9L1781.9 737.9L1782.4 739.9L1782.8 741.8L1783.3 743.8L1783.7 745.7L1784.2 747.7L1784.6 749.7L1785.1 751.6L1785.5 753.6L1785.9 755.5L1786.4 757.5L1786.8 759.5L1787.3 761.4L1787.7 763.4L1788.2 765.3L1788.6 767.3L1789.0 769.3L1789.5 771.2L1789.9 773.2L1790.3 775.2L1790.8 777.1L1791.2 779.1L1791.6 781.0L1792.0 783.0L1792.5 785.0L1792.9 786.9L1793.3 788.9L1793.7 790.9L1794.2 792.8L1794.6 794.8L1795.0 796.8L1795.4 798.7L1795.8 800.7L1796.2 802.7L1796.7 804.7L1797.1 806.6L1797.5 808.6L1797.9 810.6L1798.3 812.5L1798.7 814.5L1799.1 816.5L1799.5 818.5L1799.9 820.4L1800.3 822.4L1800.7 824.4L1801.1 826.4L1801.5 828.3L1801.9 830.3L1802.3 832.3L1802.7 834.3L1803.1 836.2L1803.5 838.2L1803.9 840.2L1804.3 842.2L1804.7 844.2L1805.1 846.1L1805.5 848.1L1805.8 850.1L1806.2 852.1L1806.6 854.1L1807.0 856.0L1807.4 858.0L1807.8 860.0L1808.1 862.0L1808.5 864.0L1808.9 865.9L1809.3 867.9L1809.7 869.9L1810.1 871.9L1810.4 873.9L1810.8 875.9L1811.2 877.8L1811.6 879.8L1811.9 881.8L1812.3 883.8L1812.7 885.8L1813.1 887.8L1813.4 889.7L1813.8 891.7L1814.2 893.7L1814.6 895.7L1814.9 897.7L1815.3 899.7L1815.7 901.6L1816.1 903.6L1816.4 905.6L1816.8 907.6L1817.2 909.6L1817.6 911.5L1817.9 913.5L1818.3 915.5L1818.7 917.5L1819.1 919.5L1819.4 921.5L1819.8 923.4L1820.2 925.4L1820.6 927.4L1821.0 929.4L1821.3 931.3L1821.7 933.3L1822.1 935.3L1822.5 937.3L1822.9 939.3L1823.2 941.2L1823.6 943.2L1824.0 945.2L1824.4 947.1L1824.8 949.1L1825.1 951.1L1825.5 953.1L1825.9 955.0L1826.3 957.0L1826.7 959.0L1827.1 960.9L1827.5 962.9L1827.9 964.9L1828.3 966.8L1828.6 968.8L1829.0 970.8L1829.4 972.7L1829.8 974.7L1830.2 976.7L1830.6 978.6L1831.0 980.6L1831.4 982.6L1831.8 984.5L1832.2 986.5L1832.6 988.4L1833.0 990.4L1833.5 992.3L1833.9 994.3L1834.3 996.2L1834.7 998.2L1835.1 1000.1L1835.5 1002.1L1835.9 1004.0L1836.3 1006.0L1836.8 1007.9L1837.2 1009.9L1837.6 1011.8L1838.0 1013.8L1838.4 1015.7L1838.9 1017.7L1839.3 1019.6L1839.7 1021.6L1840.1 1023.5L1840.6 1025.5L1841.0 1027.4L1841.4 1029.4L1841.9 1031.3L1842.3 1033.3L1842.7 1035.2L1843.1 1037.2L1843.6 1039.1L1844.0 1041.1L1844.4 1043.0L1844.9 1044.9L1845.3 1046.9L1845.8 1048.8L1846.2 1050.8L1846.6 1052.7L1847.1 1054.7L1847.5 1056.6L1847.9 1058.6L1848.4 1060.6L1848.8 1062.5L1849.3 1064.5L1849.7 1066.4L1850.1 1068.4L1850.6 1070.3L1851.0 1072.3L1851.5 1074.2L1851.9 1076.2L1852.4 1078.2L1852.8 1080.1L1853.2 1082.1L1853.7 1084.0L1854.1 1086.0L1854.6 1088.0L1855.0 1089.9L1855.5 1091.9L1855.9 1093.9L1856.4 1095.9L1856.8 1097.8L1857.3 1099.8L1857.7 1101.8L1858.1 1103.8L1858.6 1105.7L1859.0 1107.7L1859.5 1109.7L1859.9 1111.7L1860.4 1113.7L1860.8 1115.7L1861.3 1117.7L1861.7 1119.7L1862.2 1121.7L1862.6 1123.7L1863.0 1125.7L1863.5 1127.7L1863.9 1129.7L1864.4 1131.7L1864.8 1133.7L1865.3 1135.7L1865.7 1137.7L1866.2 1139.7L1866.6 1141.7L1867.1 1143.7L1867.5 1145.8L1868.0 1147.8L1868.4 1149.8L1868.9 1151.8L1869.4 1153.8L1869.9 1155.8L1870.4 1157.8L1870.9 1159.8L1871.4 1161.8L1871.9 1163.8L1872.4 1165.8L1872.9 1167.8L1873.5 1169.8L1874.0 1171.8L1874.6 1173.7L1875.2 1175.7L1875.8 1177.7L1876.4 1179.6L1877.0 1181.6L1877.6 1183.5L1878.3 1185.5L1878.9 1187.4L1879.6 1189.3L1880.3 1191.2L1881.0 1193.1L1881.7 1195.0L1882.5 1196.9L1883.2 1198.8L1884.0 1200.7L1884.8 1202.5L1885.6 1204.4L1886.5 1206.2L1887.3 1208.1L1888.2 1209.9L1889.1 1211.7L1890.0 1213.5L1891.0 1215.2L1892.0 1217.0L1893.0 1218.8L1894.0 1220.5L1895.0 1222.2L1896.1 1223.9L1897.2 1225.6L1898.4 1227.3L1899.5 1229.0L1900.7 1230.6L1901.9 1232.2L1903.1 1233.9L1904.4 1235.5L1905.7 1237.0L1907.0 1238.6L1908.3 1240.2L1909.7 1241.7L1911.1 1243.2L1912.5 1244.7L1913.9 1246.2L1915.4 1247.7L1916.9 1249.1L1918.4 1250.5L1919.9 1251.9L1921.5 1253.3L1923.0 1254.7L1924.6 1256.1L1926.3 1257.4L1927.9 1258.7L1929.6 1260.0L1931.2 1261.3L1933.0 1262.5L1934.7 1263.8L1936.4 1265.0L1938.2 1266.2L1940.0 1267.3L1941.8 1268.5L1943.6 1269.6L1945.5 1270.7L1947.3 1271.8L1949.2 1272.9L1951.1 1274.0L1953.1 1275.0L1955.0 1276.0L1956.9 1277.0L1958.9 1278.0L1960.9 1278.9L1962.9 1279.9L1964.9 1280.8L1967.0 1281.7L1969.0 1282.6L1971.0 1283.5L1973.1 1284.4L1975.2 1285.2L1977.3 1286.0L1979.4 1286.9L1981.5 1287.7L1983.6 1288.4L1985.8 1289.2L1987.9 1290.0L1990.1 1290.7L1992.2 1291.5L1994.4 1292.2L1996.6 1292.9L1998.8 1293.6L2001.0 1294.3L2003.2 1295.0L2005.4 1295.7L2007.6 1296.3L2009.8 1297.0L2012.0 1297.6L2014.2 1298.3L2016.5 1298.9L2018.7 1299.5L2020.9 1300.1L2023.1 1300.7L2025.4 1301.3L2027.6 1301.9L2029.9 1302.5L2032.1 1303.1L2034.3 1303.7L2036.6 1304.2L2038.8 1304.8L2041.0 1305.3L2043.3 1305.9L2045.5 1306.4L2047.7 1307.0L2049.9 1307.5L2052.2 1308.1L2054.4 1308.6L2056.6 1309.1L2058.8 1309.6L2061.0 1310.2L2063.2 1310.7L2065.5 1311.2L2067.7 1311.7L2069.9 1312.2L2072.1 1312.7L2074.3 1313.2L2076.5 1313.7L2078.7 1314.2L2080.9 1314.7L2083.1 1315.2L2085.3 1315.7L2087.5 1316.1L2089.7 1316.6L2091.9 1317.1L2094.1 1317.6L2096.3 1318.0L2098.6 1318.5L2100.8 1319.0L2103.0 1319.4L2105.2 1319.9L2107.4 1320.3L2109.6 1320.8L2111.8 1321.2L2114.0 1321.7L2116.2 1322.1L2118.4 1322.6L2120.6 1323.0L2122.8 1323.4L2125.1 1323.9L2127.3 1324.3L2129.5 1324.7L2131.7 1325.2L2133.9 1325.6L2136.1 1326.0L2138.4 1326.4L2140.6 1326.8L2142.8 1327.3L2145.0 1327.7L2147.2 1328.1L2149.4 1328.5L2151.7 1328.9L2153.9 1329.3L2156.1 1329.7L2158.3 1330.1L2160.6 1330.5L2162.8 1330.9L2165.0 1331.2L2167.2 1331.6L2169.4 1332.0L2171.7 1332.4L2173.9 1332.8L2176.1 1333.1L2178.4 1333.5L2180.6 1333.9L2182.8 1334.2L2185.0 1334.6L2187.3 1334.9L2189.5 1335.3L2191.7 1335.6L2194.0 1336.0L2196.2 1336.3L2198.4 1336.7L2200.7 1337.0L2202.9 1337.4L2205.1 1337.7L2207.4 1338.0L2209.6 1338.4L2211.9 1338.7L2214.1 1339.0L2216.3 1339.3L2218.6 1339.6L2220.8 1339.9L2223.1 1340.3L2225.3 1340.6L2227.5 1340.9L2229.8 1341.2L2232.0 1341.5L2234.3 1341.8L2236.5 1342.0L2238.8 1342.3L2241.0 1342.6L2243.3 1342.9L2245.5 1343.2L2247.8 1343.4L2250.0 1343.7L2252.3 1344.0L2254.5 1344.3L2256.8 1344.5L2259.0 1344.8L2261.3 1345.0L2263.5 1345.3L2265.8 1345.5L2268.0 1345.8L2270.3 1346.0L2272.6 1346.3L2274.8 1346.5L2277.1 1346.7L2279.3 1347.0L2281.6 1347.2L2283.9 1347.4L2286.1 1347.6L2288.4 1347.8L2290.6 1348.0L2292.9 1348.3L2295.2 1348.5L2297.4 1348.7L2299.7 1348.9L2302.0 1349.1L2304.2 1349.2L2306.5 1349.4L2308.8 1349.6L2311.0 1349.8L2313.3 1350.0L2315.6 1350.2L2317.9 1350.3L2320.1 1350.5L2322.4 1350.7L2324.7 1350.8L2326.9 1351.0L2329.2 1351.1L2331.5 1351.3L2333.8 1351.4L2336.1 1351.6L2338.3 1351.7L2340.6 1351.8L2342.9 1352.0L2345.2 1352.1L2347.5 1352.2L2349.7 1352.3L2352.0 1352.5L2354.3 1352.6L2356.6 1352.7L2358.9 1352.8L2361.2 1352.9L2363.4 1353.0L2365.7 1353.1L2368.0 1353.2L2370.3 1353.3L2372.6 1353.3L2375.2 1352.0L2377.8 1350.8L2379.9 1351.9L2381.9 1353.0L2384.0 1354.2L2386.0 1355.3L2388.5 1356.2L2390.9 1357.0" stroke="#f00" stroke-width="8.0"/>
<path d="M368.1 198.2L370.4 198.2L377.2 198.3L384.1 198.3L390.8 198.3M423.3 198.5L425.2 198.5L432.1 198.5L438.9 198.6L445.8 198.6L446.0 198.6M478.5 198.6L480.0 198.6L486.8 198.6L493.7 198.6L500.5 198.6L501.3 198.6M533.8 198.6L534.7 198.6L541.5 198.6L548.3 198.6L555.1 198.6L556.5 198.6M589.0 198.5L589.3 198.5L596.1 198.5L602.9 198.5L609.7 198.5L611.7 198.5M644.2 198.4L646.1 198.4L652.9 198.4L659.7 198.4L666.6 198.3L667.0 198.3M699.5 198.3L700.6 198.3L707.5 198.2L714.3 198.2L721.1 198.2L722.2 198.2M754.7 198.2L755.1 198.2L762.0 198.1L768.8 198.1L775.6 198.1L777.4 198.1M809.9 198.1L811.9 198.1L818.8 198.1L825.6 198.2L832.4 198.2L832.6 198.2M865.1 198.3L866.5 198.3L873.3 198.3L880.1 198.3L886.9 198.3L887.9 198.4M900.6 198.4L902.8 198.4L909.7 198.5L916.5 198.5L923.3 198.6M955.8 198.8L957.4 198.9L964.3 198.9L971.1 199.0L977.9 199.1L978.5 199.1M1011.0 199.5L1012.1 199.5L1019.0 199.6L1025.8 199.7L1032.6 199.9L1033.8 199.9M1066.3 200.5L1066.9 200.5L1073.7 200.6L1080.6 200.8L1087.4 200.9L1089.0 201.0M1121.5 201.8L1121.7 201.8L1128.6 202.0L1135.4 202.2L1142.3 202.4L1144.2 202.4M1176.7 203.5L1178.9 203.6L1185.8 203.9L1192.6 204.3L1199.4 204.6M1231.9 206.8L1233.6 207.0L1240.4 207.6L1247.1 208.2L1253.9 208.9L1254.7 209.0M1287.2 213.2L1287.6 213.3L1294.2 214.4L1300.9 215.5L1307.5 216.7L1309.9 217.2M1342.4 224.5L1342.6 224.5L1349.1 226.3L1355.6 228.1L1362.0 230.1L1365.1 231.0M1397.6 242.8L1397.9 242.9L1404.0 245.5L1410.1 248.2L1416.2 251.0L1420.3 253.0M1435.8 261.1L1437.8 262.2L1443.5 265.5L1449.1 268.8L1454.6 272.3L1458.6 274.9M1491.1 299.5L1491.1 299.5L1496.0 303.7L1500.8 308.0L1505.6 312.3L1510.3 316.7L1513.1 319.3M1541.0 347.9L1541.8 348.8L1546.1 353.6L1550.4 358.3L1554.6 363.1L1558.8 367.9L1558.8 367.9M1581.9 396.5L1582.5 397.4L1586.3 402.4L1589.9 407.5L1593.5 412.5L1596.2 416.5M1613.5 445.1L1613.8 445.7L1616.7 451.1L1619.4 456.6L1622.0 462.1L1623.4 465.1M1634.9 493.7L1634.9 494.0L1637.0 499.7L1638.9 505.5L1640.8 511.2L1641.6 513.7M1649.5 540.4L1650.1 542.3L1651.7 548.2L1653.4 554.0L1655.0 559.9L1655.1 560.4M1662.8 589.0L1662.8 589.2L1664.3 595.1L1665.8 601.0L1667.3 606.9L1667.8 609.0M1674.6 637.6L1674.8 638.3L1676.1 644.2L1677.4 650.1L1678.7 656.0L1679.0 657.6M1684.8 686.2L1685.1 687.5L1686.2 693.4L1687.2 699.4L1688.3 705.3L1688.4 706.2M1693.1 734.8L1693.2 735.0L1694.1 741.0L1695.0 746.9L1695.9 752.9L1696.2 754.8M1700.6 783.4L1700.8 784.6L1701.7 790.6L1702.7 796.5L1703.6 802.5L1703.8 803.4M1708.6 832.0L1708.7 832.2L1709.7 838.1L1710.8 844.1L1711.8 850.0L1712.2 852.0M1717.5 880.6L1717.7 881.7L1718.8 887.6L1720.0 893.5L1721.1 899.4L1721.4 900.6M1727.0 929.2L1727.4 931.0L1728.6 936.9L1729.8 942.8L1731.0 948.8L1731.1 949.2M1737.1 977.8L1737.2 978.3L1738.4 984.2L1739.7 990.1L1740.9 996.0L1741.3 997.8M1747.4 1026.4L1747.7 1027.5L1748.9 1033.4L1750.2 1039.4L1751.5 1045.3L1751.7 1046.4M1757.8 1075.0L1758.2 1076.8L1759.4 1082.7L1760.7 1088.6L1762.0 1094.5L1762.1 1095.0M1768.0 1123.6L1768.1 1124.0L1769.4 1129.9L1770.6 1135.8L1771.8 1141.8L1772.2 1143.6M1777.9 1172.2L1778.1 1173.3L1779.3 1179.2L1780.4 1185.2L1781.6 1191.1L1781.8 1192.2M1787.2 1220.8L1787.6 1222.7L1788.7 1228.6L1789.8 1234.5L1791.0 1240.5L1791.1 1240.8M1796.9 1269.4L1797.0 1270.1L1798.3 1276.0L1799.6 1281.9L1800.9 1287.8L1801.3 1289.4M1808.2 1318.0L1808.5 1319.1L1812.7 1318.8M1812.7 1318.8L1815.1 1318.6L1822.3 1317.9L1829.4 1317.3M1838.2 1287.6L1838.6 1285.6L1839.5 1279.6L1840.5 1273.7L1841.4 1267.7L1841.4 1267.6M1845.6 1239.0L1845.7 1237.9L1846.6 1232.0L1847.4 1226.0L1848.2 1220.0L1848.3 1219.0M1852.0 1190.4L1852.0 1190.2L1852.7 1184.2L1853.5 1178.3L1854.2 1172.3L1854.4 1170.4M1857.5 1141.8L1857.7 1140.4L1858.3 1134.4L1858.9 1128.4L1859.6 1122.5L1859.6 1121.8M1862.4 1093.2L1862.5 1092.5L1863.0 1086.5L1863.5 1080.6L1864.1 1074.6L1864.2 1073.2M1866.6 1044.6L1866.8 1042.6L1867.3 1036.6L1867.8 1030.6L1868.3 1024.6L1868.3 1024.6M1870.4 996.0L1870.5 994.7L1871.0 988.7L1871.4 982.7L1871.8 976.7L1871.9 976.0M1873.9 947.4L1873.9 946.7L1874.3 940.7L1874.7 934.7L1875.1 928.7L1875.2 927.4M1877.1 898.8L1877.1 898.7L1877.5 892.7L1877.9 886.6L1878.2 880.6L1878.4 878.8M1880.2 850.2L1880.3 848.6L1880.6 842.6L1881.0 836.6L1881.4 830.6L1881.4 830.2M1883.3 801.6L1883.3 800.6L1883.7 794.6L1884.1 788.6L1884.5 782.6L1884.6 781.6M1886.5 753.0L1886.5 752.6L1886.9 746.6L1887.3 740.6L1887.8 734.6L1887.9 733.0M1889.9 704.4L1890.1 702.6L1890.5 696.6L1891.0 690.6L1891.5 684.6L1891.5 684.4M1893.8 655.8L1893.9 654.6L1894.4 648.6L1894.9 642.6L1895.4 636.6L1895.5 635.8M1898.1 607.2L1898.1 606.7L1898.7 600.7L1899.2 594.7L1899.8 588.7L1899.9 587.2M1902.7 558.6L1902.9 556.8M1902.9 556.8L1903.1 554.8L1903.7 548.8L1904.2 542.8L1904.8 536.9L1904.8 536.8M1907.7 508.2L1907.8 507.0L1908.4 501.0L1909.0 495.0L1909.6 489.0L1909.7 488.2M1912.5 459.6L1912.6 459.1L1913.1 453.2L1913.7 447.2L1914.3 441.2L1914.5 439.6M1917.6 411.0L1917.8 409.4L1918.5 403.4L1919.4 397.4L1920.3 391.4L1920.3 391.0M1925.7 362.4L1925.9 361.4L1927.4 355.4L1928.9 349.4L1930.6 343.4L1930.9 342.4M1942.6 313.8L1943.0 313.0L1946.2 307.8L1949.7 302.9L1953.5 298.2L1957.7 293.8M1976.3 280.5L1978.3 279.5L1984.1 276.6L1990.3 274.1L1996.6 271.8L1999.1 270.9M2031.6 262.2L2032.2 262.1L2039.0 260.5L2045.8 258.9L2052.5 257.3L2054.3 256.9M2086.8 249.1L2087.8 248.9L2094.4 247.3L2100.9 245.9L2107.5 244.4L2109.5 244.0M2142.0 237.7L2142.6 237.6L2149.3 236.6L2155.9 235.7L2162.7 234.8L2164.8 234.5M2197.3 231.2L2198.9 231.0L2205.7 230.4L2212.5 229.7L2219.4 229.1L2220.0 229.0M2252.5 225.4L2253.4 225.3L2260.2 224.3L2266.9 223.3L2273.7 222.2L2275.2 221.9M2307.2 217.1L2309.4 216.8L2316.2 216.2L2322.9 215.8L2329.7 215.7L2329.9 215.7" stroke="#f00" stroke-width="6.2" stroke-linecap="round"/>
<path d="M2343.5 223.5L2348.1 237M2349.1 208.8L2354.1 189" stroke="#f00" stroke-width="6.2" stroke-linecap="round"/>
</g></g>
<g stroke="#000" fill="none">
<path d="M322.5 34.0V1491.0M2103.0 34.0V1491.0" stroke-width="5.6"/>
<path d="M319.7 37.0H2105.8M319.7 1488.0H2105.8" stroke-width="6.0"/>
<path d="M322.5 1488.0v27.2M322.5 37.0v27.2M423.7 1488.0v14.0M423.7 37.0v14.0M524.8 1488.0v27.2M524.8 37.0v27.2M626.0 1488.0v14.0M626.0 37.0v14.0M727.2 1488.0v27.2M727.2 37.0v27.2M828.3 1488.0v14.0M828.3 37.0v14.0M929.5 1488.0v27.2M929.5 37.0v27.2M1030.7 1488.0v14.0M1030.7 37.0v14.0M1131.8 1488.0v27.2M1131.8 37.0v27.2M1233.0 1488.0v14.0M1233.0 37.0v14.0M1334.1 1488.0v27.2M1334.1 37.0v27.2M1435.3 1488.0v14.0M1435.3 37.0v14.0M1536.5 1488.0v27.2M1536.5 37.0v27.2M1637.6 1488.0v14.0M1637.6 37.0v14.0M1738.8 1488.0v27.2M1738.8 37.0v27.2M1840.0 1488.0v14.0M1840.0 37.0v14.0M1941.1 1488.0v27.2M1941.1 37.0v27.2M2042.3 1488.0v14.0M2042.3 37.0v14.0" stroke-width="5.6" stroke-linecap="round"/>
<path d="M322.5 1488.0h-27.2M322.5 1356.0h-14.0M322.5 1224.1h-27.2M322.5 1092.1h-14.0M322.5 960.2h-27.2M322.5 828.2h-14.0M322.5 696.2h-27.2M322.5 564.3h-14.0M322.5 432.3h-27.2M322.5 300.4h-14.0M322.5 168.4h-27.2M322.5 36.4h-14.0M2103.0 1488.0h27.2M2103.0 1326.7h14.0M2103.0 1165.5h27.2M2103.0 1004.2h14.0M2103.0 842.9h27.2M2103.0 681.7h14.0M2103.0 520.4h27.2M2103.0 359.2h14.0M2103.0 197.9h27.2M2103.0 36.6h14.0" stroke-width="6" stroke-linecap="round"/>
</g>
<g font-size="69.0" fill="#000">
<text x="321.5" y="1586.6" text-anchor="middle" textLength="74.5" lengthAdjust="spacingAndGlyphs">50</text>
<text x="523.8" y="1586.6" text-anchor="middle" textLength="111.8" lengthAdjust="spacingAndGlyphs">100</text>
<text x="726.2" y="1586.6" text-anchor="middle" textLength="111.8" lengthAdjust="spacingAndGlyphs">150</text>
<text x="928.5" y="1586.6" text-anchor="middle" textLength="111.8" lengthAdjust="spacingAndGlyphs">200</text>
<text x="1130.8" y="1586.6" text-anchor="middle" textLength="111.8" lengthAdjust="spacingAndGlyphs">250</text>
<text x="1333.1" y="1586.6" text-anchor="middle" textLength="111.8" lengthAdjust="spacingAndGlyphs">300</text>
<text x="1535.5" y="1586.6" text-anchor="middle" textLength="111.8" lengthAdjust="spacingAndGlyphs">350</text>
<text x="1737.8" y="1586.6" text-anchor="middle" textLength="111.8" lengthAdjust="spacingAndGlyphs">400</text>
<text x="1940.1" y="1586.6" text-anchor="middle" textLength="111.8" lengthAdjust="spacingAndGlyphs">450</text>
<text x="274.8" y="1507.0" text-anchor="end" textLength="37.3" lengthAdjust="spacingAndGlyphs">0</text>
<text x="274.8" y="1243.1" text-anchor="end" textLength="74.5" lengthAdjust="spacingAndGlyphs">20</text>
<text x="274.8" y="979.2" text-anchor="end" textLength="74.5" lengthAdjust="spacingAndGlyphs">40</text>
<text x="274.8" y="715.2" text-anchor="end" textLength="74.5" lengthAdjust="spacingAndGlyphs">60</text>
<text x="274.8" y="451.3" text-anchor="end" textLength="74.5" lengthAdjust="spacingAndGlyphs">80</text>
<text x="274.8" y="187.4" text-anchor="end" textLength="111.8" lengthAdjust="spacingAndGlyphs">100</text>
<text x="2148.5" y="216.9" text-anchor="start" textLength="93.1" lengthAdjust="spacingAndGlyphs">0.0</text>
<text x="2148.5" y="539.4" text-anchor="start" textLength="115.4" lengthAdjust="spacingAndGlyphs">-0.5</text>
<text x="2148.5" y="861.9" text-anchor="start" textLength="115.4" lengthAdjust="spacingAndGlyphs">-1.0</text>
<text x="2148.5" y="1184.5" text-anchor="start" textLength="115.4" lengthAdjust="spacingAndGlyphs">-1.5</text>
<text x="2148.5" y="1507.0" text-anchor="start" textLength="115.4" lengthAdjust="spacingAndGlyphs">-2.0</text>
</g>
<g font-size="75.3" fill="#000">
<text x="937.2" y="1709.5" textLength="572.2" lengthAdjust="spacingAndGlyphs">Temperature (°C)</text>
<text transform="translate(94.9 991.6) rotate(-90)" x="-0.4" y="0" textLength="362.2" lengthAdjust="spacingAndGlyphs">Weight (%)</text>
<text transform="translate(2353.8 1218.5) rotate(-90)" x="-5.8" y="0" textLength="827.6" lengthAdjust="spacingAndGlyphs">Derivative weight (%/min)</text>
</g>
<g fill="#000">
<text x="1404.4" y="135" font-size="69.0" textLength="328.2" lengthAdjust="spacingAndGlyphs">GxH-16HD</text>
<text x="1412.7" y="204.4" font-size="69.0" textLength="40.6" lengthAdjust="spacingAndGlyphs">T</text>
<text x="1453.2" y="230.3" font-size="68" textLength="95.4" lengthAdjust="spacingAndGlyphs">5%</text>
<text x="1550.6" y="204.4" font-size="69.0" textLength="38.5" lengthAdjust="spacingAndGlyphs">=</text>
<text x="1589.8" y="204.4" font-size="69.0" textLength="187.3" lengthAdjust="spacingAndGlyphs">319°C</text>
</g>
<g fill="#f00">
<text x="800.7" y="382.7" font-size="69.0" textLength="373.6" lengthAdjust="spacingAndGlyphs">GxMe-16HD</text>
<text x="801.7" y="441.8" font-size="69.0" textLength="40.8" lengthAdjust="spacingAndGlyphs">T</text>
<text x="843.4" y="468.2" font-size="68" textLength="94.2" lengthAdjust="spacingAndGlyphs">5%</text>
<text x="939.7" y="441.8" font-size="69.0" textLength="38.5" lengthAdjust="spacingAndGlyphs">=</text>
<text x="978.9" y="441.8" font-size="69.0" textLength="187.7" lengthAdjust="spacingAndGlyphs">300°C</text>
</g>
</svg></body></html>
